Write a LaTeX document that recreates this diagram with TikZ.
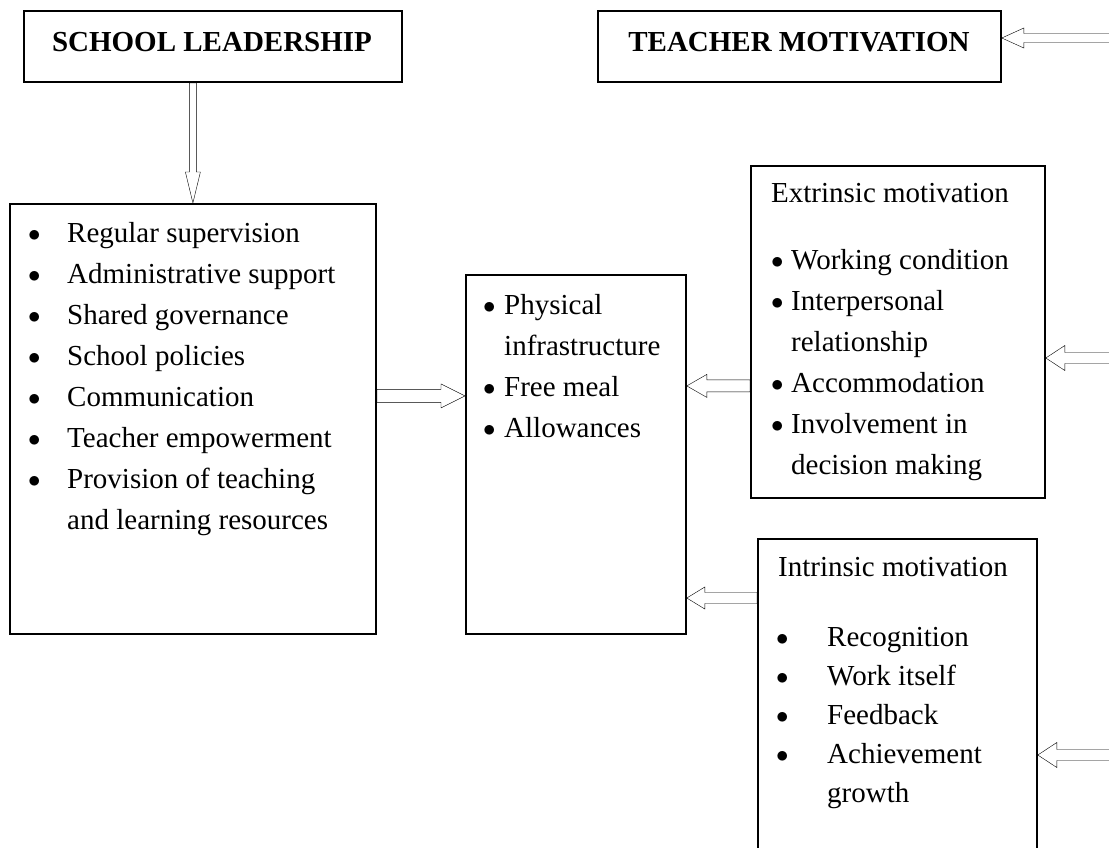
\documentclass[tikz,border=0pt]{standalone}
\usepackage{fontspec}
\setmainfont{Liberation Serif}
\usetikzlibrary{calc}

\newcommand{\bul}[1]{\makebox[#1][l]{\raisebox{0.5pt}{\fontsize{36}{36}\selectfont$\bullet$}}}

\tikzset{
  box/.style={draw, line width=1.8pt, anchor=north west, inner sep=0pt},
  txt/.style={anchor=base west, inner sep=0pt, font=\fontsize{29}{41}\selectfont},
  ttl/.style={anchor=base, inner sep=0pt, font=\fontsize{29}{41}\selectfont\bfseries},
  % hollow block arrow: shaft half width, head half width, head length
  hollow/.style n args={3}{line width=1.8pt, line join=miter, to path={
    let \p1=(\tikztostart), \p2=(\tikztotarget),
        \n1={atan2(\y2-\y1,\x2-\x1)}, \n2={veclen(\x2-\x1,\y2-\y1)} in
    ($(\p1)+({\n1+90}:#1)$)
    -- ($(\p1)+(\n1:{\n2-#3})+({\n1+90}:#1)$)
    -- ($(\p1)+(\n1:{\n2-#3})+({\n1+90}:#2)$)
    -- (\p2)
    -- ($(\p1)+(\n1:{\n2-#3})+({\n1-90}:#2)$)
    -- ($(\p1)+(\n1:{\n2-#3})+({\n1-90}:#1)$)
    -- ($(\p1)+({\n1-90}:#1)$) -- cycle}}
}

\begin{document}
\begin{tikzpicture}[x=1pt,y=-1pt]
  \useasboundingbox[fill=white] (0,0) rectangle (1109,847);

  \node[box, minimum width=378pt, minimum height=71pt] (lead) at (23,10) {};
  \node[ttl] (leadtxt) at (212,51) {SCHOOL LEADERSHIP};
  \node[box, minimum width=403pt, minimum height=71pt] (tm) at (597,10) {};
  \node[ttl] (tmtxt) at (799,51) {TEACHER MOTIVATION};

  \node[box, minimum width=366pt, minimum height=430pt] (list) at (9,203) {};
  \node[txt] (listtxt) at (28,242) {\begin{tabular}[t]{@{}l@{}}
    \bul{39pt}Regular supervision\\
    \bul{39pt}Administrative support\\
    \bul{39pt}Shared governance\\
    \bul{39pt}School policies\\
    \bul{39pt}Communication\\
    \bul{39pt}Teacher empowerment\\
    \bul{39pt}Provision of teaching\\
    \hspace{39pt}and learning resources
  \end{tabular}};

  \node[box, minimum width=220pt, minimum height=359pt] (mid) at (465,274) {};
  \node[txt] (midtxt) at (483,314) {\begin{tabular}[t]{@{}l@{}}
    \bul{21pt}Physical\\
    \hspace{21pt}infrastructure\\
    \bul{21pt}Free meal\\
    \bul{21pt}Allowances
  \end{tabular}};

  \node[box, minimum width=294pt, minimum height=332pt] (ext) at (750,165) {};
  \node[txt] (exttitle) at (771,202) {Extrinsic motivation};
  \node[txt] (exttxt) at (771,269) {\begin{tabular}[t]{@{}l@{}}
    \bul{20pt}Working condition\\
    \bul{20pt}Interpersonal\\
    \hspace{20pt}relationship\\
    \bul{20pt}Accommodation\\
    \bul{20pt}Involvement in\\
    \hspace{20pt}decision making
  \end{tabular}};

  \node[box, minimum width=279pt, minimum height=320pt] (int) at (757,538) {};
  \node[txt] (inttitle) at (778,576) {Intrinsic motivation};
  \node[txt, font=\fontsize{29}{39}\selectfont] (inttxt) at (776,646) {\begin{tabular}[t]{@{}l@{}}
    \bul{51pt}Recognition\\
    \bul{51pt}Work itself\\
    \bul{51pt}Feedback\\
    \bul{51pt}Achievement\\
    \hspace{51pt}growth
  \end{tabular}};

  \coordinate (tin) at (1112,38);
  \coordinate (ein) at (1112,358);
  \coordinate (iin) at (1112,755);

  \draw (list.north |- lead.south) to[hollow={3.5pt}{7.5pt}{31pt}] (list.north);
  \draw ([yshift=23pt]list.east) to[hollow={6.5pt}{12pt}{24pt}] ([yshift=23pt]list.east -| mid.west);
  \draw ([yshift=-54pt]ext.west) to[hollow={6pt}{11.5pt}{20pt}] ([yshift=-54pt]ext.west -| mid.east);
  \draw ([yshift=-60pt]int.north west) to[hollow={5.5pt}{11pt}{18pt}] ([yshift=-60pt]int.north west -| mid.east);
  \draw (tin) to[hollow={4.5pt}{10pt}{22pt}] (tin -| tm.east);
  \draw (ein) to[hollow={5.5pt}{12.5pt}{19pt}] (ein -| ext.east);
  \draw (iin) to[hollow={5.5pt}{12.5pt}{19pt}] (iin -| int.east);
\end{tikzpicture}
\end{document}
